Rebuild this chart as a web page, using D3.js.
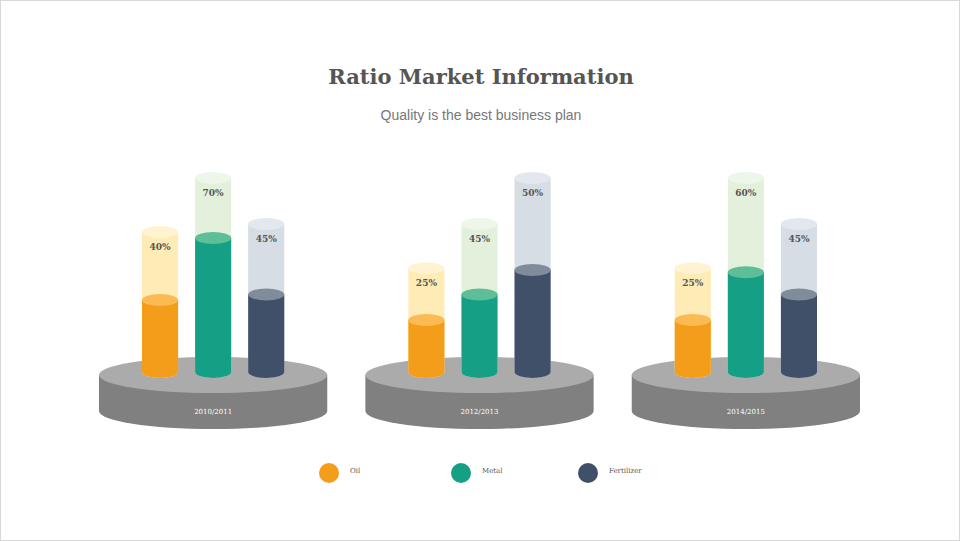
<!DOCTYPE html>
<html><head><meta charset="utf-8">
<script src="https://cdn.jsdelivr.net/npm/d3@7"></script>
<style>body{margin:0;background:#fff}svg{display:block}</style>
</head><body>
<svg id="chart" width="960" height="541"></svg>
<script>
// data
const years = ["2010/2011", "2012/2013", "2014/2015"];
const series = ["Oil", "Metal", "Fertilizer"];
const labels = [[40, 70, 45], [25, 45, 50], [25, 60, 45]];
// ghost (outer) cylinder level and filled level, in chart units 0..100
const ghostLevels = [[50.5, 70, 53.4], [37.5, 53.4, 70], [37.5, 70, 53.4]];
const fillLevels = [[26, 48.4, 28], [18.8, 28, 36.8], [18.8, 36, 28]];

const colors = {
    fill: ["#F49D1A", "#15A085", "#3F5068"],
    fillTop: ["#FBBB52", "#5DBE98", "#808B9C"],
    ghost: ["#FFEBB5", "#E3F0DB", "#D7DDE5"],
    ghostTop: ["#FFF3D2", "#EDF6E8", "#E3E8EE"]
};

const svg = d3.select("#chart");
svg.append("rect").attr("x", 0.5).attr("y", 0.5).attr("width", 959).attr("height", 540)
    .attr("fill", "none").attr("stroke", "#d9d9d9");

svg.append("text").attr("x", 481).attr("y", 84).attr("text-anchor", "middle")
    .attr("font-family", "DejaVu Serif").attr("font-weight", "bold").attr("font-size", 21).attr("fill", "#555")
    .text("Ratio Market Information");
svg.append("text").attr("x", 481).attr("y", 120).attr("text-anchor", "middle")
    .attr("font-family", "Liberation Sans").attr("font-size", 14).attr("fill", "#777")
    .text("Quality is the best business plan");

const x0 = d3.scaleBand().domain(years).range([99, 860]).paddingInner(0.143);
const x1 = d3.scaleBand().domain(series).range([0, x0.bandwidth()]).paddingInner(0.32).paddingOuter(0.81);
const y = d3.scaleLinear().domain([0, 100]).range([372, 95]);

const cw = x1.bandwidth(), ry = 6;

function cylinder(g, cx, level, body, top) {
    const yt = y(level), yb = y(0);
    g.append("path")
        .attr("d", `M${cx - cw / 2},${yt} L${cx - cw / 2},${yb} A${cw / 2},${ry} 0 0 0 ${cx + cw / 2},${yb} L${cx + cw / 2},${yt} Z`)
        .attr("fill", body);
    g.append("ellipse").attr("cx", cx).attr("cy", yt).attr("rx", cw / 2).attr("ry", ry).attr("fill", top);
}

years.forEach((yr, i) => {
    const g = svg.append("g").attr("transform", `translate(${x0(yr)},0)`);
    const cx = x0.bandwidth() / 2, rx = x0.bandwidth() / 2, pr = 18, top = 375, bot = 411;
    g.append("path")
        .attr("d", `M0,${top} L0,${bot} A${rx},${pr} 0 0 0 ${2 * rx},${bot} L${2 * rx},${top} Z`)
        .attr("fill", "#808080");
    g.append("ellipse").attr("cx", cx).attr("cy", top).attr("rx", rx).attr("ry", pr).attr("fill", "#ababab");
    g.append("text").attr("x", cx).attr("y", 414).attr("text-anchor", "middle")
        .attr("font-family", "DejaVu Serif").attr("font-size", 7).attr("fill", "#fff").text(yr);

    series.forEach((s, j) => {
        const c = x1(s) + cw / 2;
        cylinder(g, c, ghostLevels[i][j], colors.ghost[j], colors.ghostTop[j]);
        cylinder(g, c, fillLevels[i][j], colors.fill[j], colors.fillTop[j]);
        g.append("text").attr("x", c).attr("y", y(ghostLevels[i][j]) + 18).attr("text-anchor", "middle")
            .attr("font-family", "DejaVu Serif").attr("font-weight", "bold").attr("font-size", 9)
            .attr("fill", "#555").text(labels[i][j] + "%");
    });
});

const leg = svg.append("g").selectAll("g").data(series).join("g")
    .attr("transform", (d, i) => `translate(${[329, 461, 588][i]},473)`);
leg.append("circle").attr("r", 10).attr("fill", (d, i) => colors.fill[i]);
leg.append("text").attr("x", 21).attr("y", 0).attr("font-family", "DejaVu Serif")
    .attr("font-size", 7).attr("fill", "#555").text(d => d);
</script>
</body></html>
